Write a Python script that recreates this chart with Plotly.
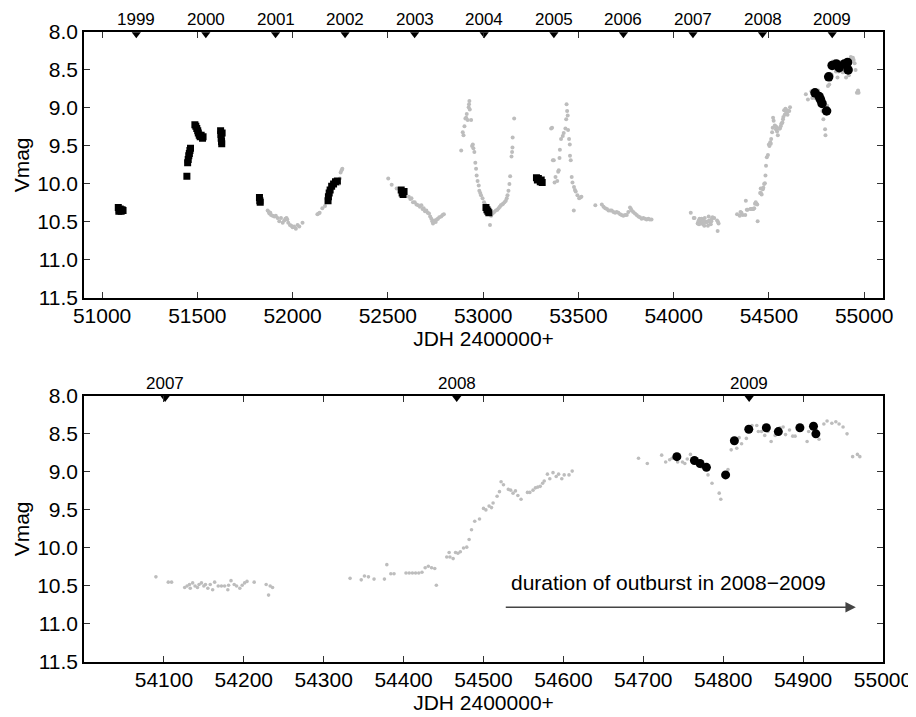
import plotly.graph_objects as go

# ---------------- data ----------------
gray_jd = [
    51869, 51875, 51878, 51883, 51887, 51895, 51904, 51912, 51921, 51930, 51939, 51948, 51956, 51962,
    51968, 51972, 51977, 51986, 51993, 52000, 52008, 52017, 52026, 52035, 52052,
    52130, 52137, 52142, 52156, 52170, 52182, 52243, 52248, 52252, 52257, 52261,
    52502, 52520, 52546, 52610, 52618, 52624, 52632, 52641, 52650, 52659, 52668, 52676, 52682, 52688,
    52695, 52702, 52709, 52716, 52722, 52728, 52733, 52737, 52744, 52751, 52757, 52763, 52770, 52780,
    52787, 52794,
    52885, 52893, 52897, 52902, 52907, 52911, 52914, 52919, 52924, 52926, 52928, 52930, 52937, 52942,
    52946, 52949, 52954, 52959, 52963, 52966, 52971, 52977, 52980, 52985, 52989, 52997, 53005, 53010,
    53036, 53042, 53050, 53058, 53067, 53075, 53081, 53088, 53093, 53100, 53105, 53112, 53119, 53124,
    53128, 53133, 53138, 53142, 53149, 53152, 53154, 53155, 53163,
    53357, 53362, 53366, 53371, 53375, 53380, 53389, 53394, 53397, 53401, 53403, 53409, 53418, 53423,
    53432, 53436, 53438, 53441, 53444, 53446, 53451, 53455, 53456, 53460, 53465, 53469, 53476, 53477,
    53482, 53486, 53495, 53504, 53510, 53516,
    53589, 53623, 53632, 53641, 53650, 53658, 53667, 53675, 53684, 53693, 53701, 53710, 53719, 53727,
    53736, 53745, 53754, 53762, 53771, 53776, 53780, 53788, 53797, 53806, 53815, 53823, 53832, 53841,
    53850, 53858, 53867, 53875, 53884,
    54090, 54105.5, 54109.6, 54126, 54129, 54132, 54133, 54136, 54139, 54142, 54144, 54147, 54150,
    54152, 54155, 54158, 54161, 54163.5, 54168, 54172, 54176, 54180, 54181, 54184, 54188, 54191,
    54195, 54198, 54201, 54204, 54213, 54228, 54231, 54233, 54236,
    54333, 54347, 54351, 54356, 54363, 54376, 54379, 54384, 54388, 54403, 54407, 54411, 54415, 54419,
    54423, 54427, 54431, 54435, 54439, 54441, 54454, 54457, 54458, 54462, 54465, 54468, 54471, 54475,
    54479, 54482,
    54485, 54489, 54495, 54500, 54503, 54507, 54510, 54512, 54517, 54520, 54522, 54525, 54531, 54534,
    54537, 54540, 54543, 54547, 54555, 54558, 54562, 54565, 54568, 54571, 54574, 54576, 54580, 54583,
    54587, 54591, 54594, 54598, 54601, 54607, 54611,
    54694, 54705, 54723, 54728, 54733, 54736, 54743, 54749, 54752, 54755, 54759, 54773, 54777, 54781,
    54786, 54795, 54797, 54806, 54810, 54817, 54820, 54823, 54829, 54836, 54842, 54844, 54848, 54852,
    54856, 54860, 54865, 54871, 54875, 54878, 54883, 54887, 54890, 54905, 54907, 54920, 54926, 54930,
    54936, 54941, 54945, 54950, 54955, 54962, 54968, 54971,
]
gray_mag = [
    10.35, 10.37, 10.39, 10.38, 10.41, 10.42, 10.43, 10.42, 10.45, 10.49, 10.45, 10.51, 10.48, 10.46,
    10.45, 10.47, 10.51, 10.54, 10.55, 10.57, 10.56, 10.59, 10.54, 10.56, 10.51,
    10.40, 10.39, 10.38, 10.32, 10.29, 10.22, 10.00, 9.93, 9.85, 9.82, 9.80,
    9.93, 10.01, 10.06, 10.17, 10.20, 10.19, 10.24, 10.24, 10.27, 10.28, 10.30, 10.28, 10.33, 10.32,
    10.36, 10.35, 10.38, 10.39, 10.43, 10.46, 10.49, 10.52, 10.48, 10.50, 10.47, 10.46, 10.44, 10.43,
    10.41, 10.40,
    9.56, 9.32, 9.36, 9.24, 9.14, 9.13, 9.08, 9.16, 8.99, 8.95, 8.91, 9.02, 9.16, 9.50,
    9.48, 9.53, 9.58, 9.72, 9.80, 9.89, 9.96, 10.02, 10.09, 10.12, 10.15, 10.19, 10.24, 10.27,
    10.54, 10.42, 10.39, 10.37, 10.35, 10.34, 10.32, 10.30, 10.28, 10.27, 10.26, 10.24, 10.22, 10.19,
    10.15, 10.09, 10.00, 9.90, 9.64, 9.58, 9.52, 9.39, 9.14,
    9.27, 9.26, 9.69, 9.69, 9.98, 9.91, 9.96, 9.84, 9.82, 9.66, 9.55, 9.41, 9.37, 9.33,
    9.27, 9.15, 8.95, 9.04, 9.10, 9.29, 9.41, 9.48, 9.63, 9.69, 9.91, 9.98, 10.35, 10.04,
    10.08, 10.10, 10.15, 10.19, 10.18, 10.17,
    10.28, 10.27, 10.30, 10.32, 10.33, 10.35, 10.35, 10.35, 10.37, 10.38, 10.37, 10.38, 10.40, 10.41,
    10.42, 10.41, 10.41, 10.37, 10.31, 10.33, 10.35, 10.37, 10.39, 10.41, 10.43, 10.44, 10.46, 10.45,
    10.46, 10.47, 10.46, 10.47, 10.47,
    10.38, 10.45, 10.45, 10.52, 10.50, 10.48, 10.53, 10.46, 10.50, 10.52, 10.48, 10.46, 10.50,
    10.48, 10.53, 10.48, 10.55, 10.45, 10.50, 10.50, 10.50, 10.55, 10.49, 10.43, 10.48, 10.50,
    10.53, 10.49, 10.46, 10.44, 10.45, 10.48, 10.62, 10.50, 10.52,
    10.40, 10.42, 10.37, 10.38, 10.41, 10.41, 10.22, 10.34, 10.34, 10.33, 10.33, 10.33, 10.33, 10.33,
    10.32, 10.26, 10.24, 10.26, 10.27, 10.49, 10.12, 10.06, 10.12, 10.14, 10.06, 10.07, 10.05, 10.00,
    9.99, 9.89,
    9.76, 9.65, 9.62, 9.48, 9.50, 9.45, 9.47, 9.41, 9.32, 9.26, 9.13, 9.17, 9.23, 9.24,
    9.28, 9.25, 9.31, 9.36, 9.27, 9.27, 9.24, 9.21, 9.20, 9.19, 9.15, 9.12, 9.03, 9.09,
    9.01, 9.06, 9.03, 9.09, 9.04, 9.04, 8.99,
    8.82, 8.89, 8.78, 8.87, 8.84, 8.82, 8.87, 8.87, 8.89, 8.83, 8.77, 8.94, 8.93, 9.04,
    9.15, 9.28, 9.36, 8.97, 8.71, 8.69, 8.55, 8.63, 8.56, 8.39, 8.39, 8.47, 8.47, 8.52,
    8.47, 8.60, 8.52, 8.42, 8.41, 8.51, 8.45, 8.53, 8.53, 8.60, 8.47, 8.57, 8.37, 8.33,
    8.36, 8.34, 8.37, 8.41, 8.50, 8.80, 8.77, 8.80,
]

square_jd = [
    51085, 51088, 51090, 51095, 51100, 51105, 51110,
    51445,
    51449, 51452, 51455, 51458, 51461, 51464,
    51487, 51492, 51497, 51502, 51505, 51510, 51515, 51520, 51527, 51530,
    51622, 51624, 51625, 51627, 51628, 51630,
    51826, 51828, 51830,
    52186, 52188, 52192, 52197, 52205, 52215, 52225, 52235,
    52570, 52575, 52580, 52585,
    53015, 53020, 53025, 53030,
    53280, 53285, 53290, 53300, 53305, 53310,
]
square_mag = [
    10.31, 10.36, 10.34, 10.33, 10.36, 10.34, 10.35,
    9.90,
    9.72, 9.68, 9.63, 9.60, 9.56, 9.53,
    9.22, 9.24, 9.27, 9.30, 9.33, 9.36, 9.38, 9.36, 9.40, 9.38,
    9.30, 9.35, 9.40, 9.44, 9.47, 9.33,
    10.18, 10.22, 10.24,
    10.22, 10.17, 10.12, 10.08, 10.03, 10.00, 9.97, 9.96,
    10.08, 10.12, 10.14, 10.10,
    10.31, 10.34, 10.36, 10.38,
    9.92, 9.95, 9.93, 9.97, 9.95, 9.98,
]

circle_jd = [54742, 54764, 54771, 54779, 54803, 54814, 54832, 54854, 54869, 54896, 54913, 54916]
circle_mag = [8.80, 8.85, 8.89, 8.94, 9.04, 8.59, 8.44, 8.42, 8.47, 8.42, 8.40, 8.50]

year_labels = ["1999", "2000", "2001", "2002", "2003", "2004", "2005", "2006", "2007", "2008", "2009"]
year_jd = [51179.5, 51544.5, 51910.5, 52275.5, 52640.5, 53005.5, 53371.5, 53736.5, 54101.5, 54466.5, 54832.5]

top_xticks = [51000, 51500, 52000, 52500, 53000, 53500, 54000, 54500, 55000]
bottom_xticks = [54100, 54200, 54300, 54400, 54500, 54600, 54700, 54800, 54900, 55000]
mag_ticks = [8.0, 8.5, 9.0, 9.5, 10.0, 10.5, 11.0, 11.5]

outburst_start = 54526
outburst_end = 54966
outburst_text = "duration of outburst in 2008\u22122009"

# ---------------- figure ----------------
FONT = "Liberation Sans, Arial, Helvetica, sans-serif"
GRAY = "#bdbdbd"
top_range = [50905, 55099]
bot_range = [54000, 55000]
mag_range = [11.5, 8.0]

fig = go.Figure()

# top panel
fig.add_trace(go.Scatter(x=gray_jd, y=gray_mag, mode="markers", xaxis="x", yaxis="y",
                         marker=dict(color=GRAY, size=4), showlegend=False, hoverinfo="skip"))
fig.add_trace(go.Scatter(x=square_jd, y=square_mag, mode="markers", xaxis="x", yaxis="y",
                         marker=dict(color="black", size=7, symbol="square"), showlegend=False))
fig.add_trace(go.Scatter(x=circle_jd, y=circle_mag, mode="markers", xaxis="x", yaxis="y",
                         marker=dict(color="black", size=9.5), showlegend=False))

# bottom panel
bot_gray = [(j, m) for j, m in zip(gray_jd, gray_mag) if bot_range[0] <= j <= bot_range[1]]
fig.add_trace(go.Scatter(x=[p[0] for p in bot_gray], y=[p[1] for p in bot_gray], mode="markers",
                         xaxis="x2", yaxis="y2", marker=dict(color=GRAY, size=3.6),
                         showlegend=False, hoverinfo="skip"))
fig.add_trace(go.Scatter(x=circle_jd, y=circle_mag, mode="markers", xaxis="x2", yaxis="y2",
                         marker=dict(color="black", size=9), showlegend=False))

# year markers
tri_off = 0.03
fig.add_trace(go.Scatter(x=year_jd, y=[mag_range[1] + tri_off] * len(year_jd), mode="markers",
                         xaxis="x", yaxis="y", marker=dict(color="black", size=8, symbol="triangle-down"),
                         showlegend=False, cliponaxis=False))
bot_years = [(j, l) for j, l in zip(year_jd, year_labels) if bot_range[0] <= j <= bot_range[1]]
fig.add_trace(go.Scatter(x=[p[0] for p in bot_years], y=[mag_range[1] + tri_off] * len(bot_years),
                         mode="markers", xaxis="x2", yaxis="y2",
                         marker=dict(color="black", size=8, symbol="triangle-down"),
                         showlegend=False, cliponaxis=False))

annotations = []
for j, l in zip(year_jd, year_labels):
    annotations.append(dict(x=j, y=1, xref="x", yref="y domain", text=l, showarrow=False,
                            yanchor="bottom", yshift=1, font=dict(size=17, color="black", family=FONT)))
for j, l in bot_years:
    annotations.append(dict(x=j, y=1, xref="x2", yref="y2 domain", text=l, showarrow=False,
                            yanchor="bottom", yshift=1, font=dict(size=17, color="black", family=FONT)))

annotations.append(dict(x=outburst_end, y=10.78, ax=outburst_start, ay=10.78, xref="x2", yref="y2",
                        axref="x2", ayref="y2", text="", showarrow=True, arrowhead=2, arrowsize=1.3,
                        arrowwidth=1.6, arrowcolor="#444"))
annotations.append(dict(x=outburst_start + 6, y=10.455, xref="x2", yref="y2", text=outburst_text,
                        showarrow=False, xanchor="left", yanchor="middle",
                        font=dict(size=21, color="black", family=FONT)))

axis_common = dict(showline=True, linecolor="black", linewidth=1.5, mirror="ticks", ticks="inside",
                   ticklen=6, tickwidth=1, tickcolor="#333", showgrid=False, zeroline=False,
                   tickfont=dict(size=21, color="black", family=FONT))

fig.update_layout(
    width=916, height=717,
    margin=dict(l=74, r=37, t=19, b=63),
    paper_bgcolor="white", plot_bgcolor="white",
    font=dict(family=FONT, color="black"),
    xaxis=dict(domain=[0, 1], anchor="y", range=top_range, tickvals=top_xticks, tickformat="d",
               ticklabelstandoff=-2,
               title=dict(text="JDH 2400000+", font=dict(size=21), standoff=4), **axis_common),
    yaxis=dict(domain=[0.578, 1], anchor="x", range=mag_range, tickvals=mag_ticks, tickformat=".1f",
               title=dict(text="Vmag", font=dict(size=21), standoff=2), **axis_common),
    xaxis2=dict(domain=[0, 1], anchor="y2", range=bot_range, tickvals=bottom_xticks, tickformat="d",
                ticklabelstandoff=-2,
                title=dict(text="JDH 2400000+", font=dict(size=21), standoff=4), **axis_common),
    yaxis2=dict(domain=[0, 0.4225], anchor="x2", range=mag_range, tickvals=mag_ticks, tickformat=".1f",
                title=dict(text="Vmag", font=dict(size=21), standoff=2), **axis_common),
    annotations=annotations,
)

fig.write_html("out.html")
